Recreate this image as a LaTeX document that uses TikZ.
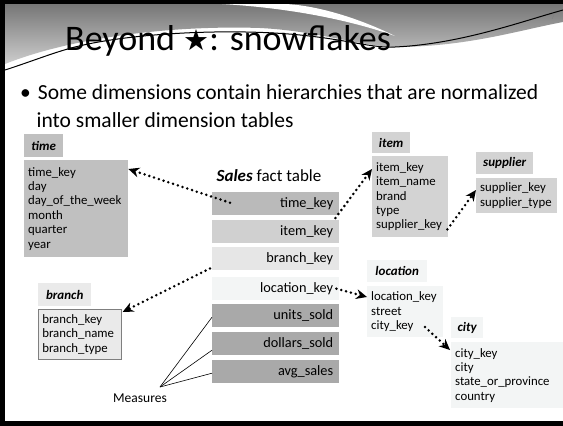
\documentclass[tikz,border=0pt]{standalone}
\usepackage{fontspec}
\setmainfont{Carlito}
\newfontfamily\symfont{DejaVu Sans}
\usetikzlibrary{arrows.meta,calc}

\definecolor{rowtime}{HTML}{BABABA}
\definecolor{rowitem}{HTML}{D0D0D0}
\definecolor{rowbranch}{HTML}{E6E6E6}
\definecolor{rowloc}{HTML}{F3F5F5}
\definecolor{rowmeas}{HTML}{A9A9A9}
\definecolor{timefill}{HTML}{C0C0C0}
\definecolor{itemfill}{HTML}{D3D3D3}
\definecolor{locfill}{HTML}{F3F5F5}
\definecolor{branchfill}{HTML}{EAEAEA}
\definecolor{branchline}{HTML}{7F7F7F}

\newcommand{\tblfont}{\fontsize{12.8}{14.4}\selectfont}
\newcommand{\hdrfont}{\fontsize{13}{15}\selectfont\bfseries\itshape}
\newcommand{\rowfont}{\fontsize{14.3}{16}\selectfont}

\begin{document}
\begin{tikzpicture}[x=1pt,y=-1pt,
  hdr/.style={anchor=north west, inner sep=0pt, font=\hdrfont},
  tbody/.style={anchor=north west, inner xsep=4pt, inner ysep=0pt, align=left, font=\tblfont},
  srow/.style={anchor=north west, inner xsep=6pt, inner ysep=0pt, text width=115pt,
    minimum height=23pt, align=right, font=\rowfont},
  fklink/.style={line width=2.8pt, dash pattern=on 0pt off 5pt, line cap=round,
    -{Stealth[length=11pt,width=10pt,line width=0pt]}},
  measline/.style={line width=0.6pt}]
\useasboundingbox (0,0) rectangle (563,426);
\fill[white] (0,0) rectangle (563,426);

% title banner
\shade[top color={rgb,255:red,118;green,118;blue,118}, bottom color={rgb,255:red,205;green,205;blue,205}]
  (5,4) -- (563,4) -- (563,22)
  .. controls (520,30) and (470,46) .. (400,47)
  .. controls (360,47) and (320,31) .. (260,28)
  .. controls (170,25) and (70,38) .. (5,64) -- cycle;
\fill[white] (222,4) .. controls (290,8) and (350,20) .. (395,36)
  .. controls (350,14) and (310,5) .. (285,4) -- cycle;
\draw[line width=1pt] (5,70) .. controls (30,62) and (55,52) .. (75,47)
  .. controls (130,33) and (230,28) .. (300,35)
  .. controls (350,40) and (370,48) .. (395,47)
  .. controls (460,44) and (520,22) .. (563,10);
\node[anchor=center, text=gray, font=\fontsize{7}{8}\selectfont] (pagenum) at (553,17) {7};

% slide frame
\fill[black] (0,0) rectangle (563,4);
\fill[black] (0,0) rectangle (5,426);
\fill[black] (0,421) rectangle (563,426);

% title and bullet text
\node[anchor=base west, inner sep=0pt, font=\fontsize{36}{38}\selectfont] (title) at (65,50)
  {Beyond {\symfont\fontsize{29}{31}\selectfont ★}: snowflakes};
\node[anchor=north west, inner sep=0pt, align=left, font=\fontsize{21.5}{28}\selectfont] (intro) at (20,84)
  {\textbullet\hspace{7pt}Some dimensions contain hierarchies that are normalized\\
   \hspace{16.5pt}into smaller dimension tables};

% fact table
\node[anchor=center, inner sep=0pt, font=\fontsize{17}{19}\selectfont] (facttitle) at (269,176)
  {\textbf{\textit{Sales}} fact table};
\node[srow, fill=rowtime]   (rtime)    at (212,192) {time\_key};
\node[srow, fill=rowitem]   (ritem)    at (212,220) {item\_key};
\node[srow, fill=rowbranch] (rbranch)  at (212,247) {branch\_key};
\node[srow, fill=rowloc]    (rloc)     at (212,277) {location\_key};
\node[srow, fill=rowmeas]   (runits)   at (212,304) {units\_sold};
\node[srow, fill=rowmeas]   (rdollars) at (212,332) {dollars\_sold};
\node[srow, fill=rowmeas]   (ravg)     at (212,360) {avg\_sales};

% time dimension
\node[hdr, fill=timefill, minimum width=39pt, minimum height=23pt] (timehdr) at (24,134) {time};
\node[tbody, fill=timefill, text width=96pt, minimum height=97pt] (time) at (24,160)
  {time\_key\\day\\day\_of\_the\_week\\month\\quarter\\year};

% item dimension
\node[hdr, fill=itemfill, minimum width=38pt, minimum height=21pt] (itemhdr) at (372,132) {item};
\node[tbody, fill=itemfill, text width=68pt, minimum height=81pt] (item) at (372,156)
  {item\_key\\item\_name\\brand\\type\\supplier\_key};

% supplier dimension
\node[hdr, fill=itemfill, minimum width=57pt, minimum height=22pt] (supphdr) at (476,152) {supplier};
\node[tbody, fill=itemfill, text width=73pt, minimum height=35pt] (supplier) at (476,178)
  {supplier\_key\\supplier\_type};

% branch dimension
\node[hdr, fill=branchfill, minimum width=53pt, minimum height=23pt] (branchhdr) at (38,283) {branch};
\node[tbody, fill=branchfill, draw=branchline, line width=0.6pt, text width=75pt, minimum height=50pt] (branch) at (38,309)
  {branch\_key\\branch\_name\\branch\_type};

% location dimension
\node[hdr, fill=locfill, minimum width=60pt, minimum height=22pt] (lochdr) at (367,260) {location};
\node[tbody, fill=locfill, text width=68pt, minimum height=51pt] (location) at (367,286)
  {location\_key\\street\\city\_key};

% city dimension
\node[hdr, fill=locfill, minimum width=32pt, minimum height=21pt] (cityhdr) at (451,317) {city};
\node[tbody, fill=locfill, text width=104pt, minimum height=66pt] (city) at (451,342)
  {city\_key\\city\\state\_or\_province\\country};

% foreign key links
\draw[fklink] ($(rtime.west)+(18,-1)$) -- ($(time.north east)+(0,9)$);
\draw[fklink] ($(ritem.north east)+(-4,-2)$) -- ($(item.north west)+(0,13)$);
\draw[fklink] ($(item.south east)+(-1,-8)$) -- ($(supplier.north west)+(0,12)$);
\draw[fklink] ($(rbranch.south west)+(-2,-2)$) -- ($(branch.north east)+(1,3)$);
\draw[fklink] ($(rloc.east)+(-3,0)$) -- ($(location.north west)+(0,11)$);
\draw[fklink] ($(location.north west)+(58,41)$) -- ($(city.north west)+(-1,8)$);

% measures
\coordinate (mpt) at (160,387);
\node[anchor=center, inner sep=0pt, font=\fontsize{13.5}{15}\selectfont] (measures) at (140,398) {Measures};
\draw[measline] (mpt) -- ($(runits.west)+(0,1.5)$);
\draw[measline] (mpt) -- ($(rdollars.west)+(0,6.5)$);
\draw[measline] (mpt) -- ($(ravg.west)+(0,1.5)$);
\end{tikzpicture}
\end{document}
